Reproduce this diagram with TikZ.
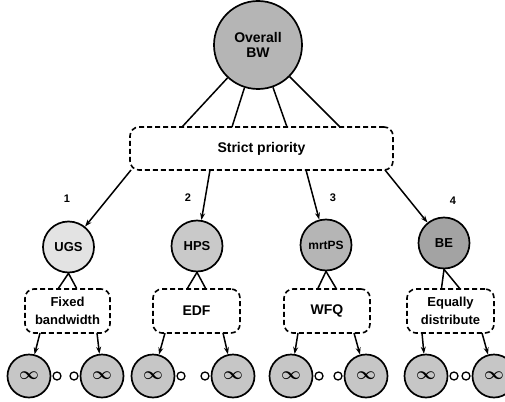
\documentclass[tikz,border=0pt]{standalone}
\usepackage{fontspec}
\setmainfont{Liberation Sans}
\usetikzlibrary{arrows.meta}
\tikzset{
  bigc/.style={circle,draw,line width=1.7pt,minimum size=88pt,inner sep=0pt,align=center,font=\bfseries\fontsize{14}{15}\selectfont},
  midc/.style={circle,draw,line width=1.7pt,minimum size=51pt,inner sep=0pt,font=\bfseries\fontsize{13}{13}\selectfont},
  leafc/.style={circle,draw,line width=1.7pt,minimum size=43pt,inner sep=0pt,fill=gray!45,font=\fontsize{18}{18}\selectfont\boldmath},
  tinyc/.style={circle,draw,line width=1.3pt,minimum size=8pt,inner sep=0pt,fill=white},
  dbox/.style={draw,dash pattern=on 5pt off 3pt,line width=1.6pt,rounded corners=9pt,inner sep=0pt,align=center,font=\bfseries\fontsize{13}{18}\selectfont},
  conn/.style={line width=1.5pt},
  arr/.style={line width=1.5pt,-{Stealth[length=7pt,width=5pt]}},
  lab/.style={font=\bfseries\fontsize{11}{11}\selectfont}
}
\begin{document}
\begin{tikzpicture}[x=1pt,y=-1pt]
\useasboundingbox[fill=white] (0,0) rectangle (505,401);
% top
\node[bigc,fill=gray!58] (ov) at (258,45) {Overall\\BW};
\node[dbox,minimum width=263pt,minimum height=43pt,font=\bfseries\fontsize{14}{14}\selectfont] (sp) at (261.5,148.5) {Strict priority};
\coordinate (t1) at (182,127);
\coordinate (t2) at (232,127);
\coordinate (t3) at (287,127);
\coordinate (t4) at (340,127);
\foreach \t in {t1,t2,t3,t4} \draw[conn] (ov) -- (\t);
% level 2
\node[midc,fill=gray!22] (ugs) at (68.5,247) {UGS};
\node[midc,fill=gray!42] (hps) at (197,246) {HPS};
\node[midc,fill=gray!58,font=\bfseries\fontsize{12}{12}\selectfont] (mrt) at (326,245) {mrtPS};
\node[midc,fill=gray!72] (be) at (444,243) {BE};
\coordinate (b1) at (131,170);
\coordinate (b2) at (210,170);
\coordinate (b3) at (306,170);
\coordinate (b4) at (385,170);
\draw[arr] (b1) -- (ugs);
\draw[arr] (b2) -- (hps);
\draw[arr] (b3) -- (mrt);
\draw[arr] (b4) -- (be);
\node[lab] (l1) at (67,199) {1};
\node[lab] (l2) at (188,198) {2};
\node[lab] (l3) at (333,198) {3};
\node[lab] (l4) at (453,201) {4};
% boxes
\node[dbox,minimum width=85pt,minimum height=44pt] (fb) at (67.5,311) {Fixed\\bandwidth};
\node[dbox,minimum width=87pt,minimum height=44pt,font=\bfseries\fontsize{14}{14}\selectfont] (edf) at (196.5,311) {EDF};
\node[dbox,minimum width=86pt,minimum height=44pt,font=\bfseries\fontsize{14}{14}\selectfont] (wfq) at (327,311) {WFQ};
\node[dbox,minimum width=87pt,minimum height=44pt] (ed) at (450.5,311) {Equally\\distribute};
% lambda connectors
\foreach \c/\b in {ugs/fb,hps/edf,mrt/wfq,be/ed}{
  \draw[conn] ([xshift=-9pt]\b.north) -- (\c.south) -- ([xshift=9pt]\b.north);
}
% leaves
\node[leafc] (f1) at (29,376) {$\infty$};
\node[leafc] (f2) at (102,376) {$\infty$};
\node[leafc] (f3) at (153,376) {$\infty$};
\node[leafc] (f4) at (233,376) {$\infty$};
\node[leafc] (f5) at (291,376) {$\infty$};
\node[leafc] (f6) at (366,376) {$\infty$};
\node[leafc] (f7) at (426,376) {$\infty$};
\node[leafc] (f8) at (494,376) {$\infty$};
\node[tinyc,anchor=west] (s1) at ([xshift=1pt]f1.east) {};
\node[tinyc,anchor=east] (s2) at ([xshift=-1pt]f2.west) {};
\node[tinyc,anchor=west] (s3) at ([xshift=1pt]f3.east) {};
\node[tinyc,anchor=east] (s4) at ([xshift=-1pt]f4.west) {};
\node[tinyc,anchor=west] (s5) at ([xshift=1pt]f5.east) {};
\node[tinyc,anchor=east] (s6) at ([xshift=-1pt]f6.west) {};
\node[tinyc,anchor=west] (s7) at ([xshift=1pt]f7.east) {};
\node[tinyc,anchor=east] (s8) at ([xshift=-1pt]f8.west) {};
% leaf arrows
\coordinate (a1) at (40,333);
\coordinate (a2) at (97,333);
\coordinate (a3) at (165,333);
\coordinate (a4) at (223,333);
\coordinate (a5) at (298,333);
\coordinate (a6) at (354,333);
\coordinate (a7) at (422,333);
\coordinate (a8) at (482,333);
\draw[arr] (a1) -- (f1);
\draw[arr] (a2) -- (f2);
\draw[arr] (a3) -- (f3);
\draw[arr] (a4) -- (f4);
\draw[arr] (a5) -- (f5);
\draw[arr] (a6) -- (f6);
\draw[arr] (a7) -- (f7);
\draw[arr] (a8) -- (f8);
\end{tikzpicture}
\end{document}
